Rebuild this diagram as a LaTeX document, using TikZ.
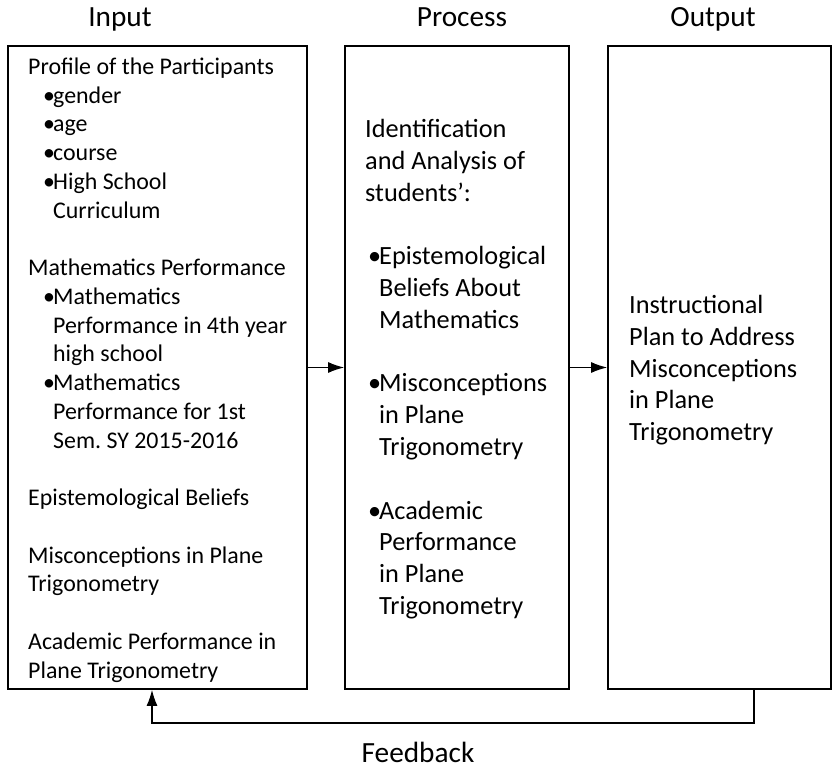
\documentclass[tikz,border=0pt]{standalone}
\usepackage{fontspec}
\setmainfont{Carlito}
\usetikzlibrary{arrows.meta}
\newcommand{\itm}{\hspace*{15pt}\makebox[10pt][l]{•}}
\newcommand{\cnt}{\hspace*{25pt}}
\newcommand{\pitm}{\hspace*{3pt}\makebox[11pt][l]{•}}
\newcommand{\pcnt}{\hspace*{14pt}}

\begin{document}
\begin{tikzpicture}[x=1pt, y=-1pt,
    box/.style={draw, line width=1.8pt, inner sep=0pt},
    small/.style={font=\fontsize{23.9}{28.75}\selectfont, align=left, inner sep=0pt, anchor=north west},
    big/.style={font=\fontsize{26.3}{31.8}\selectfont, align=left, inner sep=0pt, anchor=north west},
    title/.style={font=\fontsize{29.3}{32}\selectfont, inner sep=0pt, anchor=base},
    flow/.style={line width=1.2pt, -{Latex[length=16pt,width=11pt]}}]
\useasboundingbox (0,0) rectangle (835,770);
% boxes
\node[box, minimum width=299pt, minimum height=643pt] (input) at (157.5,367.5) {};
\node[box, minimum width=224pt, minimum height=643pt] (process) at (457,367.5) {};
\node[box, minimum width=223pt, minimum height=643pt] (output) at (719.5,367.5) {};
% titles
\node[title] (tin) at (120,27) {Input};
\node[title] (tpro) at (462,27) {Process};
\node[title] (tout) at (713,27) {Output};
% contents
\node[small] (intext) at (28,57.5) {Profile of the Participants\\
  \itm gender\\
  \itm age\\
  \itm course\\
  \itm High School\\
  \cnt Curriculum\\[28.75pt]
  Mathematics Performance\\
  \itm Mathematics\\
  \cnt Performance in 4th year\\
  \cnt high school\\
  \itm Mathematics\\
  \cnt Performance for 1st\\
  \cnt Sem.\ SY 2015-2016\\[28.75pt]
  Epistemological Beliefs\\[28.75pt]
  Misconceptions in Plane\\
  Trigonometry\\[28.75pt]
  Academic Performance in\\
  Plane Trigonometry};
\node[big] (protext) at (365,119) {Identification\\
  and Analysis of\\
  students’:\\[31.8pt]
  \pitm Epistemological\\
  \pcnt Beliefs About\\
  \pcnt Mathematics\\[31.8pt]
  \pitm Misconceptions\\
  \pcnt in Plane\\
  \pcnt Trigonometry\\[31.8pt]
  \pitm Academic\\
  \pcnt Performance\\
  \pcnt in Plane\\
  \pcnt Trigonometry};
\node[big] (outtext) at (629,295) {Instructional\\
  Plan to Address\\
  Misconceptions\\
  in Plane\\
  Trigonometry};
% connectors
\draw[flow] (input.east) -- (process.west);
\draw[flow] (process.east) -- (output.west);
\coordinate (fbturn) at (754,723);
\draw[flow] ([xshift=34.5pt]output.south) |- (fbturn) -| ([xshift=-5.5pt]input.south);
\node[title] (fb) at (418,762) {Feedback};
\end{tikzpicture}
\end{document}
